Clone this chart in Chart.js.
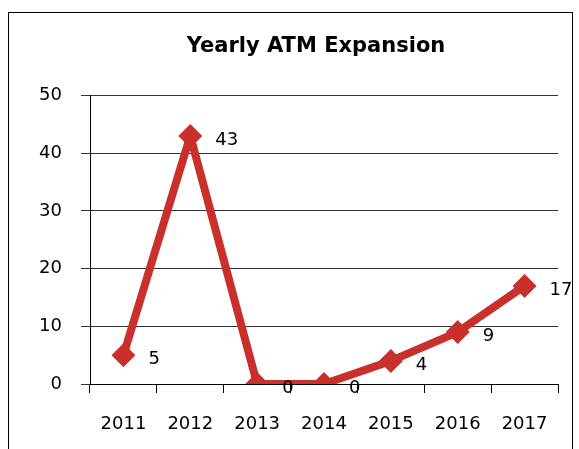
<!DOCTYPE html>
<html>
<head>
<meta charset="utf-8">
<script src="https://cdn.jsdelivr.net/npm/chart.js@4/dist/chart.umd.min.js"></script>
<style>
  html, body { margin: 0; padding: 0; background: #fff; }
  #wrap { position: relative; width: 579px; height: 449px; overflow: hidden; }
  #frame { position: absolute; left: 8px; top: 12px; width: 563px; height: 460px; border: 1.5px solid #000; }
  canvas { position: absolute; left: 0; top: 0; }
</style>
</head>
<body>
<div id="wrap">
  <div id="frame"></div>
  <canvas id="chart" width="579" height="449"></canvas>
</div>
<script>
// Chart data
const years = ["2011", "2012", "2013", "2014", "2015", "2016", "2017"];
const atmCounts = [5, 43, 0, 0, 4, 9, 17];
const yTicks = [0, 10, 20, 30, 40, 50];
const chartTitle = "Yearly ATM Expansion";

const red = "#C9302C";
const font = "'DejaVu Sans', sans-serif";

// Title centred over the plot area, value labels right of each point
const extras = {
  id: "extras",
  afterDraw(chart) {
    const ctx = chart.ctx;
    const area = chart.chartArea;
    ctx.save();
    ctx.fillStyle = "#000";
    ctx.textBaseline = "middle";
    ctx.textAlign = "center";
    ctx.font = "bold 21px " + font;
    ctx.fillText(chartTitle, (area.left + area.right) / 2 - 8, 47);
    ctx.restore();
  },
  afterDatasetsDraw(chart) {
    const ctx = chart.ctx;
    const meta = chart.getDatasetMeta(0);
    ctx.save();
    ctx.font = "18px " + font;
    ctx.fillStyle = "#000";
    ctx.textBaseline = "middle";
    ctx.textAlign = "left";
    meta.data.forEach((pt, i) => {
      ctx.fillText(String(atmCounts[i]), pt.x + 25, pt.y + 4);
    });
    ctx.restore();
  }
};

new Chart(document.getElementById("chart"), {
  type: "line",
  data: {
    labels: years,
    datasets: [{
      data: atmCounts,
      borderColor: red,
      backgroundColor: red,
      borderWidth: 8,
      borderJoinStyle: "bevel",
      pointStyle: "rectRot",
      pointRadius: 12,
      pointBorderWidth: 0,
      pointBackgroundColor: red,
      tension: 0
    }]
  },
  options: {
    responsive: false,
    animation: false,
    layout: { padding: { left: 0, right: 21, top: 95.5, bottom: 0 } },
    plugins: {
      legend: { display: false },
      tooltip: { enabled: false },
      title: { display: false }
    },
    scales: {
      x: {
        offset: true,
        afterFit: s => { s.height = 65; },
        grid: {
          offset: true,
          drawOnChartArea: false,
          drawTicks: true,
          tickLength: 9,
          color: "#000"
        },
        border: { color: "#000", width: 1 },
        ticks: {
          color: "#000",
          padding: 21,
          font: { family: font, size: 18 }
        }
      },
      y: {
        min: 0,
        max: 50,
        afterFit: s => { s.width = 90; },
        afterBuildTicks: s => { s.ticks = yTicks.map(v => ({ value: v })); },
        grid: {
          color: "#333",
          tickLength: 9,
          drawTicks: true
        },
        border: { color: "#000", width: 1 },
        ticks: {
          color: "#000",
          padding: 19,
          font: { family: font, size: 18 }
        }
      }
    }
  },
  plugins: [extras]
});
</script>
</body>
</html>
